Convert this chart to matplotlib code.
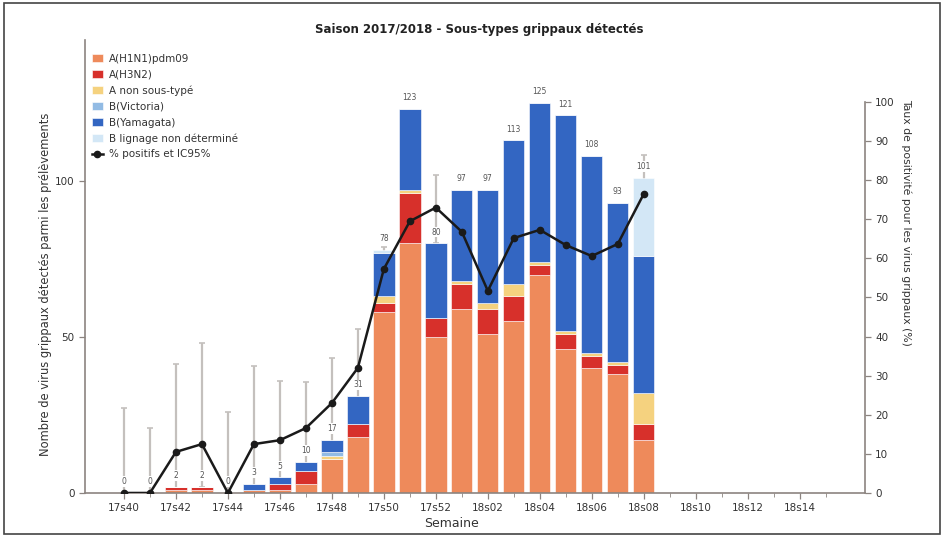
import numpy as np
import matplotlib
matplotlib.use("Agg")
import matplotlib.pyplot as plt
from matplotlib.patches import Rectangle

plt.rcParams['font.family'] = ['DejaVu Sans']

# ---- data -----------------------------------------------------------
weeks = (["17s%02d" % w for w in range(40, 53)] +
         ["18s%02d" % w for w in range(1, 16)])

# counts per subtype, weeks 17s40 .. 18s08
h1n1    = [0, 0, 1, 1, 0, 1, 1, 3, 11, 18, 58, 80, 50, 59, 51, 55, 70, 46, 40, 38, 17]
h3n2    = [0, 0, 1, 1, 0, 0, 2, 4, 0, 4, 3, 16, 6, 8, 8, 8, 3, 5, 4, 3, 5]
a_nst   = [0, 0, 0, 0, 0, 0, 0, 0, 1, 0, 2, 1, 0, 1, 2, 4, 1, 1, 1, 1, 10]
b_vic   = [0, 0, 0, 0, 0, 0, 0, 0, 1, 0, 0, 0, 0, 0, 0, 0, 0, 0, 0, 0, 0]
b_yam   = [0, 0, 0, 0, 0, 2, 2, 3, 4, 9, 14, 26, 24, 29, 36, 46, 51, 69, 63, 51, 44]
b_nd    = [0, 0, 0, 0, 0, 0, 0, 0, 0, 0, 1, 0, 0, 0, 0, 0, 0, 0, 0, 0, 25]

# positivity rate (%) and 95% CI
pct     = [0, 0, 10.5, 12.5, 0, 12.5, 13.5, 16.6, 23, 32, 57.3, 69.5, 73, 66.8,
           51.7, 65.2, 67.3, 63.4, 60.6, 63.7, 76.5]
ci_low  = [0, 0, 1, 1.5, 0, 1.5, 3, 5, 12, 22, 50, 61, 64, 57, 42, 56, 59, 55,
           52, 54, 67.3]
ci_high = [21.7, 16.6, 33, 38.4, 20.7, 32.5, 28.6, 28.4, 34.5, 42, 63, 77, 81.3,
           76, 61, 73, 75, 71, 69, 73, 86.4]

series = [
    ("A(H1N1)pdm09", h1n1, '#EE8A5B'),
    ("A(H3N2)", h3n2, '#D7302B'),
    ("A non sous-typé", a_nst, '#F5D27F'),
    ("B(Victoria)", b_vic, '#92BBE4'),
    ("B(Yamagata)", b_yam, '#3366C2'),
    ("B lignage non déterminé", b_nd, '#D3E7F6'),
]

# ---- figure ---------------------------------------------------------
fig = plt.figure(figsize=(9.44, 5.37), dpi=100)
ax_err = fig.add_axes([0.090, 0.082, 0.826, 0.8435])
ax = ax_err.twinx()
ax2 = ax_err.twinx()
ax_err.set_zorder(0)
ax.set_zorder(1)
ax2.set_zorder(2)
ax.patch.set_visible(False)
ax2.patch.set_visible(False)

n = len(h1n1)
x = np.arange(n)
spine_col = '#8c8480'
txt_col = '#333333'

# error bars (behind the bars)
pct_a = np.array(pct)
yerr = [pct_a - np.array(ci_low), np.array(ci_high) - pct_a]
ax_err.errorbar(x, pct, yerr=yerr, fmt='none', ecolor='#c4c0bd',
                elinewidth=1.6, capsize=2.5, capthick=1.2)
ax_err.set_ylim(0, 453 / 3.91)
ax_err.set_xlim(-1.5, 28.5)
ax_err.axis('off')

# stacked bars
bottom = np.zeros(n)
handles = []
for name, vals, col in series:
    b = ax.bar(x, vals, width=0.82, bottom=bottom, color=col,
               edgecolor='white', linewidth=0.4, label=name)
    handles.append(b)
    bottom += np.array(vals)

for xi, tot in zip(x, bottom):
    ax.text(xi, tot + 2.2, "%d" % tot, ha='center', va='bottom',
            fontsize=5.5, color='#555555',
            bbox=dict(boxstyle='square,pad=0.1', fc='white', ec='none'))

ax.xaxis.set_visible(True)
ax.set_xlim(-1.5, 28.5)
ax.set_ylim(0, 453 / 3.12)
ax.yaxis.tick_left()
ax.yaxis.set_label_position('left')
ax.set_yticks([0, 50, 100])
ax.set_xticks(np.arange(0, len(weeks), 2))
ax.set_xticklabels(weeks[::2])
ax.set_xticks(np.arange(len(weeks)), minor=True)
ax.tick_params(axis='both', labelsize=7.5, colors=spine_col,
               labelcolor=txt_col, length=4, width=0.9)
ax.tick_params(axis='x', which='minor', length=3, colors=spine_col)
ax.set_ylabel("Nombre de virus grippaux détectés parmi les prélèvements",
              fontsize=8.3, color=txt_col)
ax.yaxis.set_label_coords(-0.042, 0.46)
ax.set_xlabel("Semaine", fontsize=9, color=txt_col)
ax.xaxis.set_label_coords(0.47, -0.052)
for s in ['top', 'right']:
    ax.spines[s].set_visible(False)
for s in ['left', 'bottom']:
    ax.spines[s].set_visible(True)
    ax.spines[s].set_color(spine_col)
    ax.spines[s].set_linewidth(1.2)

# positivity line
line, = ax2.plot(x, pct, color='#1a1a1a', linewidth=1.8, marker='o',
                 markersize=4.5, label="% positifs et IC95%")
ax2.set_ylim(0, 453 / 3.91)
ax2.set_xlim(-1.5, 28.5)
ax2.set_yticks(np.arange(0, 101, 10))
ax2.tick_params(axis='y', labelsize=7.5, colors=spine_col,
                labelcolor=txt_col, length=4, width=0.9)
ax2.spines['right'].set_bounds(0, 100)
ax2.spines['right'].set_color(spine_col)
ax2.spines['right'].set_linewidth(1.2)
for s in ['top', 'left', 'bottom']:
    ax2.spines[s].set_visible(False)
ax2.set_ylabel("Taux de positivité pour les virus grippaux (%)",
               fontsize=7.8, color=txt_col, rotation=270, va='bottom')
ax2.yaxis.set_label_coords(1.046, 0.598)

ax2.legend(handles + [line], [h.get_label() for h in handles] + [line.get_label()],
           loc='upper left', bbox_to_anchor=(0.0, 0.985), frameon=False,
           fontsize=7.5, handlelength=1.0, handleheight=0.8,
           labelspacing=0.55, handletextpad=0.6, borderaxespad=0.3,
           labelcolor=txt_col)

fig.suptitle("Saison 2017/2018 - Sous-types grippaux détectés",
             fontsize=8.5, fontweight='bold', x=0.508, y=0.957, color='#222222')

fig.patches.append(Rectangle((0.004, 0.006), 0.992, 0.988,
                             transform=fig.transFigure, fill=False,
                             edgecolor='#444444', linewidth=1.2))

fig.savefig("out.png", dpi=100)
